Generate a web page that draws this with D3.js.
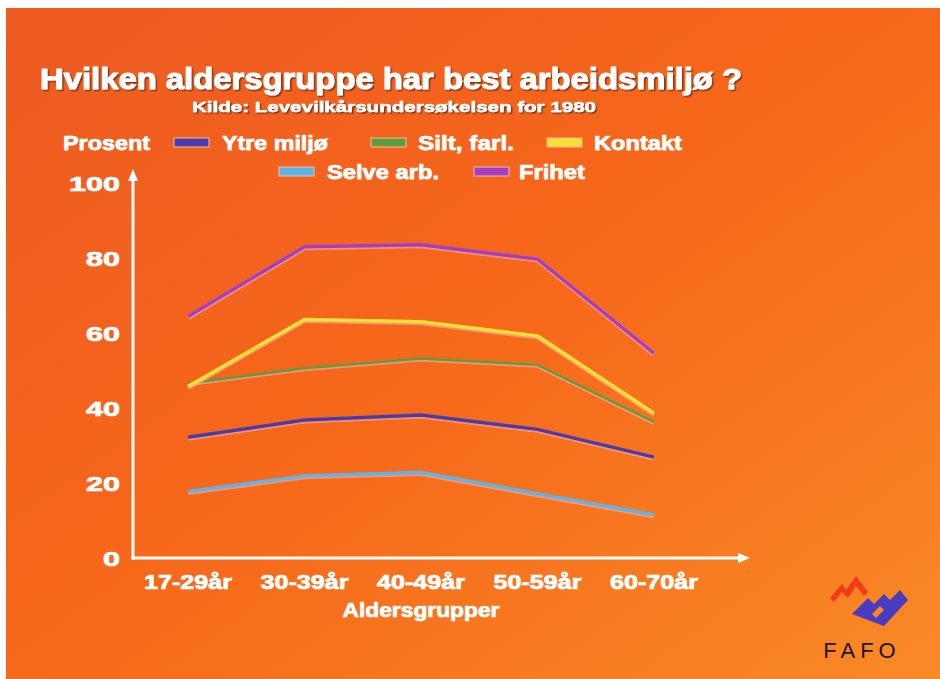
<!DOCTYPE html>
<html>
<head>
<meta charset="utf-8">
<script src="https://cdn.jsdelivr.net/npm/d3@7"></script>
<style>
	body{margin:0;background:#fff;}
	svg{display:block;font-family:"Liberation Sans",Arial,sans-serif;font-weight:bold;}
</style>
</head>
<body>
<div id="chart"></div>
<script>
// data
let ageGroups = ['17-29år','30-39år','40-49år','50-59år','60-70år']
let ytreMiljo = [32.2,36.8,38.1,34.3,26.9]
let siltFarl = [46.6,50.6,53.2,51.5,36.3]
let kontakt = [45.7,63.6,63.0,59.2,38.6]
let selveArb = [17.7,21.9,22.8,17.1,11.5]
let frihet = [64.4,83.0,83.5,79.7,54.6]
let yTicks = [0,20,40,60,80,100]

let series = [
	{'name':'Ytre miljø','values':ytreMiljo,'colour':'#4b3aa8','width':3.5},
	{'name':'Silt, farl.','values':siltFarl,'colour':'#5f9c3c','width':2.5},
	{'name':'Kontakt','values':kontakt,'colour':'#f6e034','width':3.5},
	{'name':'Selve arb.','values':selveArb,'colour':'#5db4e6','width':3.5},
	{'name':'Frihet','values':frihet,'colour':'#a43fc4','width':3.5}
]

// wide, heavy lettering like the slide
function wideText(svg,x,y,txt,size,len,anchor){
	return svg.append('text').attr('x',x).attr('y',y).attr('text-anchor',anchor||'start')
		.attr('font-size',size).attr('fill','#fff')
		.attr('stroke','#fff').attr('stroke-width',size/28).attr('stroke-linejoin','round')
		.attr('textLength',len).attr('lengthAdjust','spacingAndGlyphs').text(txt)
}

function init(){
	let width = 940, height = 679
	let svg = d3.select('#chart').append('svg').attr('width',width).attr('height',height)

	let defs = svg.append('defs')
	let grad = defs.append('linearGradient').attr('id','bg').attr('x1','0').attr('y1','0').attr('x2','1').attr('y2','1')
	grad.append('stop').attr('offset','0').attr('stop-color','#ee5a22')
	grad.append('stop').attr('offset','0.5').attr('stop-color','#f6681a')
	grad.append('stop').attr('offset','1').attr('stop-color','#f98a26')

	let shadow = defs.append('filter').attr('id','shadow').attr('x','-5%').attr('y','-20%').attr('width','110%').attr('height','140%')
	shadow.append('feDropShadow').attr('dx',1.5).attr('dy',1.5).attr('stdDeviation',0.6).attr('flood-color','#6a2a10').attr('flood-opacity',0.8)

	svg.append('rect').attr('x',6).attr('y',8).attr('width',width-6).attr('height',height-8).attr('fill','url(#bg)')

	// title
	wideText(svg,40,89,'Hvilken aldersgruppe har best arbeidsmiljø ?',30,702).attr('filter','url(#shadow)')
	wideText(svg,192,112,'Kilde: Levevilkårsundersøkelsen for 1980',15,404).attr('filter','url(#shadow)')

	let x = d3.scalePoint().domain(ageGroups).range([188,654])
	let y = d3.scaleLinear().domain([0,100]).range([558,183])

	// axes
	let axisX0 = 133
	svg.append('line').attr('x1',axisX0).attr('x2',axisX0).attr('y1',y(0)+1.5).attr('y2',y(100)-4)
		.attr('stroke','#fff').attr('stroke-width',3)
	svg.append('path').attr('d',`M${axisX0-5},${y(100)-2} L${axisX0},${y(100)-14} L${axisX0+5},${y(100)-2} Z`).attr('fill','#fff')
	svg.append('line').attr('x1',axisX0-1.5).attr('x2',740).attr('y1',y(0)).attr('y2',y(0))
		.attr('stroke','#fff').attr('stroke-width',3)
	svg.append('path').attr('d',`M738,${y(0)-5} L750,${y(0)} L738,${y(0)+5} Z`).attr('fill','#fff')

	yTicks.forEach(function(d){
		let s = String(d)
		wideText(svg,120,y(d)+7.5,s,20,s.length*17,'end')
	})

	ageGroups.forEach(function(d){
		wideText(svg,x(d),589,d,20,88,'middle')
	})

	wideText(svg,421,617,'Aldersgrupper',20,157,'middle')
	wideText(svg,63,150,'Prosent',21,87)

	// lines
	let line = d3.line().x(function(d,i){return x(ageGroups[i])}).y(function(d){return y(d)})
	series.forEach(function(s){
		svg.append('path').attr('d',line(s.values)).attr('fill','none')
			.attr('stroke','#f7b0b0').attr('stroke-width',s.width+1.5).attr('stroke-opacity',0.6)
			.attr('transform','translate(0,1)').attr('stroke-linejoin','miter')
		svg.append('path').attr('d',line(s.values)).attr('fill','none')
			.attr('stroke',s.colour).attr('stroke-width',s.width).attr('stroke-linejoin','miter')
	})

	// legend: swatch x, text x, baseline, text width
	let legendPos = [[174,222,150,106],[371,418,150,96],[547,594,150,88],[279,327,179,112],[474,519,179,66]]
	series.forEach(function(s,i){
		let p = legendPos[i]
		svg.append('rect').attr('x',p[0]).attr('y',p[2]-12).attr('width',35).attr('height',9)
			.attr('fill',s.colour).attr('stroke','#f9b9a0').attr('stroke-width',1)
		wideText(svg,p[1],p[2],s.name,21,p[3])
	})

	// FAFO logo
	let logo = svg.append('g').attr('transform','translate(822,570)')
	logo.append('path').attr('d','M8,28 L20,14 L24,20 L34,6 L46,22 L42,26 L34,16 L26,28 L20,22 L12,32 Z').attr('fill','#f23a1a')
	logo.append('path').attr('d','M30,44 L46,28 L52,34 L62,24 L68,30 L78,20 L86,30 L62,56 Z M50,44 L58,36 L62,40 L54,48 Z').attr('fill','#4a3cc0').attr('fill-rule','evenodd')
	svg.append('text').attr('x',862).attr('y',658).attr('text-anchor','middle').attr('font-size',22)
		.attr('font-weight','normal').attr('letter-spacing',5).attr('fill','#1a1430').text('FAFO')
}

init()
</script>
</body>
</html>
